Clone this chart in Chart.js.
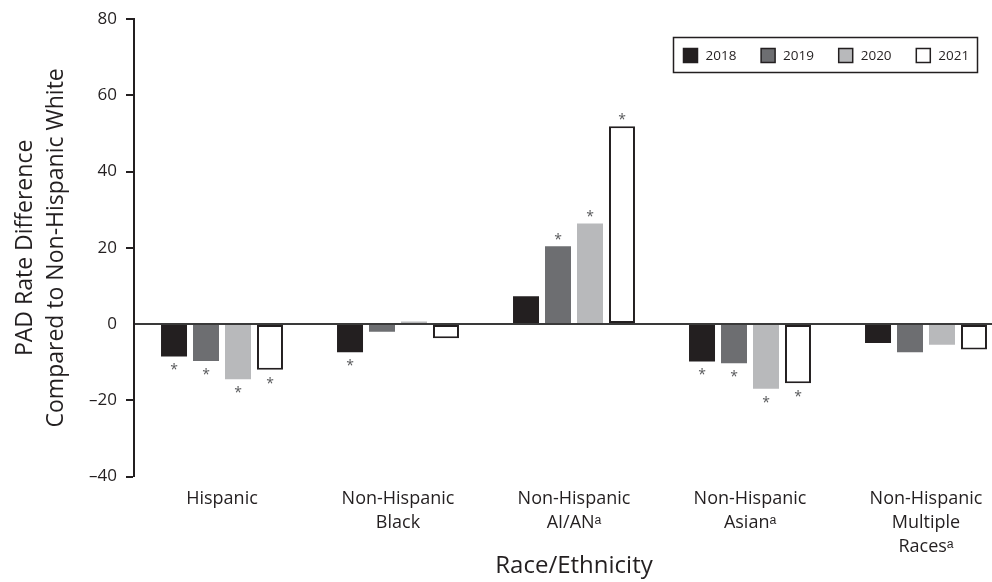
<!DOCTYPE html>
<html>
<head>
<meta charset="utf-8">
<script src="https://cdn.jsdelivr.net/npm/chart.js@4/dist/chart.umd.min.js"></script>
<style>
  html, body { margin: 0; padding: 0; background: #fff; overflow: hidden; width: 992px; height: 582px; }
  #wrap { width: 1014px; height: 582px; }
</style>
</head>
<body>
<div id="wrap"><canvas id="c" width="1014" height="582"></canvas></div>
<script>
// Race/ethnicity groups (multi-line tick labels)
const categories = [
  ['Hispanic'],
  ['Non-Hispanic', 'Black'],
  ['Non-Hispanic', 'AI/ANᵃ'],
  ['Non-Hispanic', 'Asianᵃ'],
  ['Non-Hispanic', 'Multiple', 'Racesᵃ']
];
const years = ['2018', '2019', '2020', '2021'];

// PAD rate difference compared to non-Hispanic White
const values2018 = [-8.5, -7.4, 7.3, -9.8, -5.0];
const values2019 = [-9.7, -2.0, 20.4, -10.3, -7.4];
const values2020 = [-14.5, 0.7, 26.4, -17.0, -5.4];
const values2021 = [-12.0, -3.7, 51.9, -15.5, -6.7];

// Statistically significant differences (marked with *)
const sig2018 = [true, true, false, true, false];
const sig2019 = [true, false, true, true, false];
const sig2020 = [true, false, true, true, false];
const sig2021 = [true, false, true, true, false];

const yTicks = [-40, -20, 0, 20, 40, 60, 80];

const INK = '#231f20';
const FONT = '"Open Sans", "Liberation Sans", sans-serif';
const fills = ['#231f20', '#6d6e71', '#b8b9bb', '#ffffff'];
const seriesValues = [values2018, values2019, values2020, values2021];
const seriesSig = [sig2018, sig2019, sig2020, sig2021];

const datasets = years.map((y, i) => ({
  label: y,
  data: seriesValues[i],
  backgroundColor: fills[i],
  borderColor: i === 3 ? INK : fills[i],
  borderWidth: i === 3 ? 2 : 0,
  borderSkipped: false,
  categoryPercentage: 0.727,
  barPercentage: 0.8125
}));

// Asterisks beside significant bars
const starPlugin = {
  id: 'stars',
  afterDatasetsDraw(chart) {
    const ctx = chart.ctx;
    ctx.save();
    ctx.fillStyle = '#58595b';
    ctx.font = '14px ' + FONT;
    ctx.textAlign = 'center';
    ctx.textBaseline = 'alphabetic';
    chart.data.datasets.forEach((ds, i) => {
      const meta = chart.getDatasetMeta(i);
      meta.data.forEach((bar, j) => {
        if (!seriesSig[i][j]) return;
        const v = ds.data[j];
        const yb = v >= 0 ? bar.y - 2 : bar.y + 18;
        ctx.fillText('*', bar.x, yb);
      });
    });
    ctx.restore();
  }
};

// Boxed legend in the upper right of the plot
const boxLegend = {
  id: 'boxLegend',
  afterDraw(chart) {
    const ctx = chart.ctx;
    ctx.save();
    ctx.strokeStyle = INK;
    ctx.lineWidth = 1.5;
    ctx.strokeRect(673.5, 37.5, 304, 35);
    ctx.font = '13.5px ' + FONT;
    ctx.textBaseline = 'middle';
    ctx.textAlign = 'left';
    chart.data.datasets.forEach((ds, i) => {
      const x = 683.5 + i * 77.6;
      const y = 48.5;
      ctx.fillStyle = ds.backgroundColor;
      ctx.fillRect(x, y, 14, 14);
      ctx.lineWidth = 1.5;
      ctx.strokeStyle = INK;
      ctx.strokeRect(x, y, 14, 14);
      ctx.fillStyle = INK;
      ctx.fillText(ds.label, x + 22, y + 7.5);
    });
    ctx.restore();
  }
};

new Chart(document.getElementById('c'), {
  type: 'bar',
  data: { labels: categories, datasets },
  plugins: [starPlugin, boxLegend],
  options: {
    responsive: false,
    animation: false,
    devicePixelRatio: 1,
    layout: { padding: { top: 18, left: 0, right: 0, bottom: 0 } },
    plugins: { legend: { display: false }, tooltip: { enabled: false } },
    scales: {
      x: {
        grid: { display: false, drawTicks: false },
        border: { display: false },
        ticks: { color: INK, font: { family: FONT, size: 18, lineHeight: 1.35 }, padding: 10, maxRotation: 0 },
        title: { display: true, text: 'Race/Ethnicity', color: INK, font: { family: FONT, size: 24, lineHeight: 1.2 }, padding: { top: 0, bottom: 1 } },
        afterFit(scale) { scale.height = 105.5; }
      },
      y: {
        min: -40,
        max: 80,
        afterBuildTicks(scale) { scale.ticks = yTicks.map(v => ({ value: v })); },
        grid: {
          drawOnChartArea: true,
          color: c => (c.tick && c.tick.value === 0 ? '#3a3a3a' : 'rgba(0,0,0,0)'),
          lineWidth: c => (c.tick && c.tick.value === 0 ? 2 : 0),
          tickColor: c => (c.tick && c.tick.value === 0 ? 'rgba(0,0,0,0)' : INK),
          tickLength: 8,
          tickWidth: 2
        },
        border: { display: true, color: INK, width: 2 },
        ticks: {
          color: INK,
          font: { family: FONT, size: 17 },
          padding: 9,
          callback: v => (v < 0 ? '\u2013' + Math.abs(v) : String(v))
        },
        title: {
          display: true,
          text: ['PAD Rate Difference', 'Compared to Non-Hispanic White'],
          color: INK,
          font: { family: FONT, size: 23, lineHeight: 1.35 },
          padding: { top: 10, bottom: 0 }
        },
        afterFit(scale) { scale.width = 134; }
      }
    }
  }
});
</script>
</body>
</html>
